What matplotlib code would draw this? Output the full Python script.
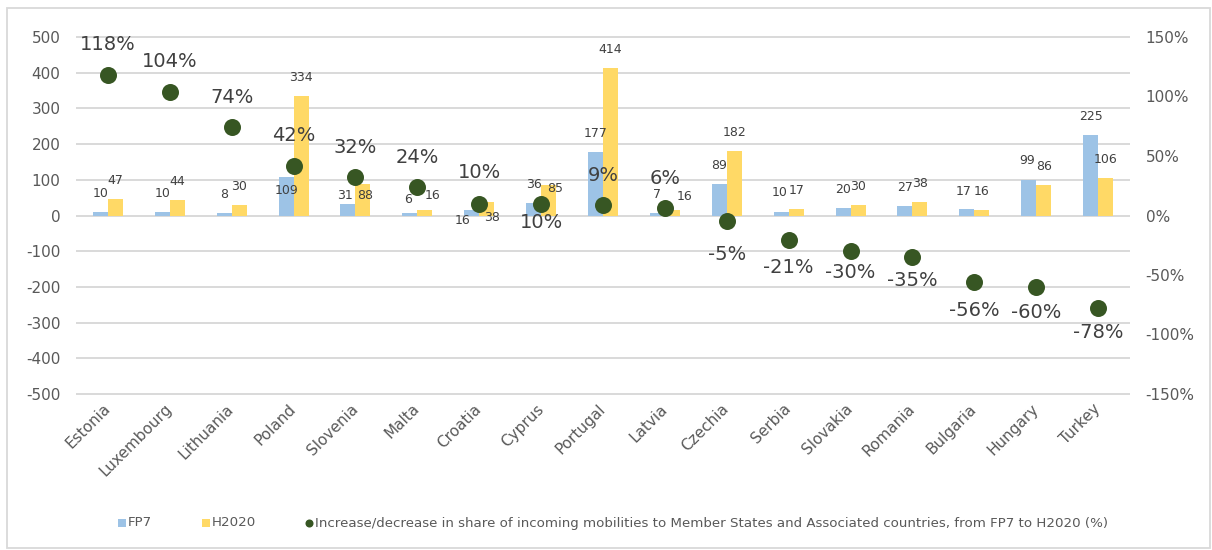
import matplotlib
matplotlib.use("Agg")
import matplotlib.pyplot as plt
from matplotlib.lines import Line2D
from matplotlib.patches import Rectangle
from matplotlib.ticker import FuncFormatter
import numpy as np

plt.rcParams["axes.unicode_minus"] = False

# ---- data ----
countries = ["Estonia", "Luxembourg", "Lithuania", "Poland", "Slovenia", "Malta",
             "Croatia", "Cyprus", "Portugal", "Latvia", "Czechia", "Serbia",
             "Slovakia", "Romania", "Bulgaria", "Hungary", "Turkey"]
fp7 = [10, 10, 8, 109, 31, 6, 16, 36, 177, 7, 89, 10, 20, 27, 17, 99, 225]
h2020 = [47, 44, 30, 334, 88, 16, 38, 85, 414, 16, 182, 17, 30, 38, 16, 86, 106]
share_change = [118, 104, 74, 42, 32, 24, 10, 10, 9, 6, -5, -21, -30, -35,
                -56, -60, -78]
legend_labels = ["FP7", "H2020",
                 "Increase/decrease in share of incoming mobilities to Member States "
                 "and Associated countries, from FP7 to H2020 (%)"]

# ---- styling ----
C_FP7 = "#9DC3E6"
C_H2020 = "#FFD966"
C_DOT = "#375623"
C_GRID = "#D9D9D9"
C_TICK = "#595959"
C_LABEL = "#404040"
W_PX, H_PX = 1212, 550
PX = 0.72  # points per pixel at 100 dpi

# label offsets in pixels (dx, dy) relative to bar top; default sits above the bar
BAR_LABEL_DEFAULT = (0, 18.5)
fp7_label_shift = {3: (0, -14), 4: (-3, 9), 5: (-2, 14), 6: (-9, -11),
                   11: (-2, 19), 14: (-3, 18), 15: (-2, 19.5)}
h2020_label_shift = {4: (2, -11), 5: (8, 14), 6: (5, -16), 7: (7, -3),
                     9: (12, 13)}
# vertical offsets (pixels) of the percentage labels from their markers
pct_label_dy = [31, 30.5, 30, 30, 30, 29.5, 31, -18.5, 29, 30, -33, -27,
                -21, -23, -28, -26, -24]

fig = plt.figure(figsize=(W_PX / 100, H_PX / 100), dpi=100)
ax = fig.add_axes([77 / W_PX, 1 - 394 / H_PX, (1129 - 77) / W_PX, (394 - 37) / H_PX])

x = np.arange(len(countries))
w = 0.242
bars_fp7 = ax.bar(x - w / 2, fp7, width=w, color=C_FP7, zorder=2)
bars_h = ax.bar(x + w / 2, h2020, width=w, color=C_H2020, zorder=2)

ax.set_xlim(-0.5, len(countries) - 0.5)
ax.set_ylim(-500, 500)
ax.set_yticks(np.arange(-500, 501, 100))
ax.yaxis.grid(True, color=C_GRID, linewidth=1.4, zorder=0)
for gl in ax.get_ygridlines():
    gl.set_clip_on(False)
ax.set_axisbelow(True)
for s in ax.spines.values():
    s.set_visible(False)
ax.tick_params(axis="y", length=0, pad=12, labelsize=11, labelcolor=C_TICK)
ax.tick_params(axis="x", length=0, pad=9, labelsize=11, labelcolor=C_TICK)
ax.set_xticks(x)
ax.set_xticklabels(countries, rotation=45, ha="right", va="center",
                   rotation_mode="anchor")

for series, vals, shifts, off in ((bars_fp7, fp7, fp7_label_shift, -w / 2),
                                  (bars_h, h2020, h2020_label_shift, w / 2)):
    for i, v in enumerate(vals):
        dx, dy = shifts.get(i, BAR_LABEL_DEFAULT)
        ax.annotate(f"{v}", xy=(i + off, v), xytext=(dx * PX, dy * PX),
                    textcoords="offset points", ha="center", va="center",
                    fontsize=9, color=C_LABEL, zorder=5)

ax2 = ax.twinx()
ax2.set_ylim(-150, 150)
ax2.set_yticks(np.arange(-150, 151, 50))
ax2.yaxis.set_major_formatter(FuncFormatter(lambda v, _: f"{v:.0f}%"))
for s in ax2.spines.values():
    s.set_visible(False)
ax2.tick_params(axis="y", length=0, pad=12, labelsize=11, labelcolor=C_TICK)
ax2.scatter(x, share_change, s=150, color=C_DOT, zorder=4, linewidths=0)
for i, v in enumerate(share_change):
    ax2.annotate(f"{v}%", xy=(i, v), xytext=(0, pct_label_dy[i] * PX),
                 textcoords="offset points", ha="center", va="center",
                 fontsize=14, color=C_LABEL, zorder=6)

# legend row along the bottom
legend_y = 1 - 523 / H_PX
legend_items = [(122, 128, "s", C_FP7), (206, 212, "s", C_H2020), (309, 315, "o", C_DOT)]
for (mx, tx, mk, col), text in zip(legend_items, legend_labels):
    fig.add_artist(Line2D([mx / W_PX], [legend_y], transform=fig.transFigure,
                          marker=mk, ls="", color=col, markersize=5.8,
                          markeredgewidth=0))
    fig.text(tx / W_PX, legend_y, text, ha="left", va="center",
             fontsize=9.6, color=C_TICK)

fig.add_artist(Rectangle((7 / W_PX, 2 / H_PX), (1210 - 7) / W_PX, (548 - 8) / H_PX,
                         transform=fig.transFigure, fill=False,
                         edgecolor=C_GRID, linewidth=1.3, clip_on=False))

fig.savefig("out.png", dpi=100)
